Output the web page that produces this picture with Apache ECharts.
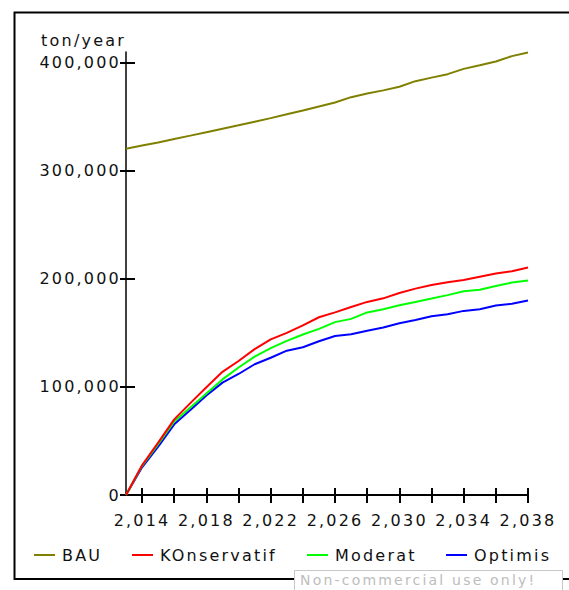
<!DOCTYPE html>
<html>
<head>
<meta charset="utf-8">
<script src="https://cdn.jsdelivr.net/npm/echarts@6/dist/echarts.min.js"></script>
<style>
  html, body { margin: 0; padding: 0; background: #fff; }
  #chart { width: 569px; height: 590px; }
  #chart text { letter-spacing: 2.2px; }
</style>
</head>
<body>
<div id="chart"></div>
<script>
// Simulation years (one value per year)
const years = [2013, 2014, 2015, 2016, 2017, 2018, 2019, 2020, 2021, 2022, 2023, 2024, 2025,
               2026, 2027, 2028, 2029, 2030, 2031, 2032, 2033, 2034, 2035, 2036, 2037, 2038];

// ton/year per scenario
const bau = [320400, 323400, 326300, 329500, 332600, 335800, 339000, 342200, 345500, 348800, 352300, 355900, 359600,
             363200, 368200, 371500, 374500, 377800, 383000, 386300, 389500, 394400, 397700, 401200, 406200, 409500];
const konservatif = [0, 27500, 48500, 70000, 85000, 99700, 114000, 124000, 135000, 144000, 150000, 157000, 164500,
                     169000, 174000, 178700, 182000, 187000, 191000, 194400, 197000, 199000, 202000, 205000, 207000, 210500];
const moderat = [0, 27000, 47000, 68000, 81000, 94000, 107000, 118000, 128000, 136000, 142600, 148500, 153700,
                 160000, 163000, 169000, 172000, 175600, 178700, 181800, 185000, 188600, 190000, 193500, 196600, 198500];
const optimis = [0, 25600, 44800, 65400, 78700, 92000, 104000, 112000, 121000, 127000, 133600, 136700, 142300,
                 147200, 148800, 152000, 155000, 159000, 162000, 165400, 167300, 170400, 172000, 175300, 177000, 180000];

const seriesNames = ['BAU', 'KOnservatif', 'Moderat', 'Optimis'];
const seriesColors = ['#808000', '#ff0000', '#00ff00', '#0000ff'];
const seriesValues = [bau, konservatif, moderat, optimis];

// Axis ticks and labels
const xTicks = [2014, 2016, 2018, 2020, 2022, 2024, 2026, 2028, 2030, 2032, 2034, 2036, 2038];
const xLabels = [2014, 2018, 2022, 2026, 2030, 2034, 2038];
const yTicks = [0, 100000, 200000, 300000, 400000];
const yName = 'ton/year';
const watermark = 'Non-commercial use only!';

const fmt = v => Number(v).toLocaleString('en-US');
const textColor = '#111';
const font = 'DejaVu Sans';

const chart = echarts.init(document.getElementById('chart'), null, { renderer: 'svg' });

const legendLefts = [34, 132, 307, 446];

chart.setOption({
  animation: false,
  backgroundColor: '#fff',
  grid: { left: 126, right: 41, top: 52, bottom: 95, containLabel: false },
  xAxis: [
    {
      type: 'value', min: 2013, max: 2038, position: 'bottom',
      axisLine: { show: true, lineStyle: { color: '#000', width: 2 } },
      axisTick: { show: true, inside: false, length: 8, customValues: xTicks, lineStyle: { color: '#000', width: 2 } },
      axisLabel: { show: true, customValues: xLabels, formatter: fmt, margin: 17,
                   color: textColor, fontSize: 16, fontFamily: font },
      splitLine: { show: false }
    },
    {
      type: 'value', min: 2013, max: 2038, position: 'bottom',
      axisLine: { show: false },
      axisTick: { show: true, inside: true, length: 7, customValues: xTicks, lineStyle: { color: '#000', width: 2 } },
      axisLabel: { show: false },
      splitLine: { show: false }
    }
  ],
  yAxis: [
    {
      type: 'value', min: 0, max: 410000, position: 'left',
      name: yName, nameLocation: 'end', nameGap: 12,
      nameTextStyle: { align: 'right', verticalAlign: 'middle', color: textColor, fontSize: 16, fontFamily: font },
      axisLine: { show: true, lineStyle: { color: '#000', width: 1.5 } },
      axisTick: { show: true, inside: false, length: 6, customValues: yTicks, lineStyle: { color: '#000', width: 2 } },
      axisLabel: { show: true, customValues: yTicks, formatter: fmt, margin: 5,
                   color: textColor, fontSize: 16, fontFamily: font },
      splitLine: { show: false }
    },
    {
      type: 'value', min: 0, max: 410000, position: 'left',
      axisLine: { show: false },
      axisTick: { show: true, inside: true, length: 9, customValues: yTicks, lineStyle: { color: '#000', width: 2 } },
      axisLabel: { show: false },
      splitLine: { show: false }
    }
  ],
  legend: seriesNames.map((n, i) => ({
    data: [n], left: legendLefts[i], top: 547, padding: 0,
    icon: 'rect', itemWidth: 21, itemHeight: 2, itemGap: 0,
    selectedMode: false,
    textStyle: { color: textColor, fontSize: 16, fontFamily: font, padding: [0, 0, 0, 2] }
  })),
  series: seriesNames.map((n, i) => ({
    name: n, type: 'line', xAxisIndex: 0, yAxisIndex: 0,
    data: years.map((y, k) => [y, seriesValues[i][k]]),
    symbol: 'none', showSymbol: false,
    itemStyle: { color: seriesColors[i] },
    lineStyle: { color: seriesColors[i], width: 2 },
    z: 10 - i
  })),
  graphic: [
    {
      type: 'rect', silent: true, z: -1,
      shape: { x: 14.5, y: 12.5, width: 600, height: 566.5 },
      style: { fill: 'none', stroke: '#000', lineWidth: 2 }
    },
    {
      type: 'rect', silent: true, z: 100,
      shape: { x: 294.5, y: 570.5, width: 268, height: 40 },
      style: { fill: '#fff', stroke: '#c8c8c8', lineWidth: 1 }
    },
    {
      type: 'text', silent: true, z: 101, left: 300, top: 573,
      style: { text: watermark, fill: '#bdbdbd', fontSize: 14, fontFamily: font }
    }
  ]
});
</script>
</body>
</html>
